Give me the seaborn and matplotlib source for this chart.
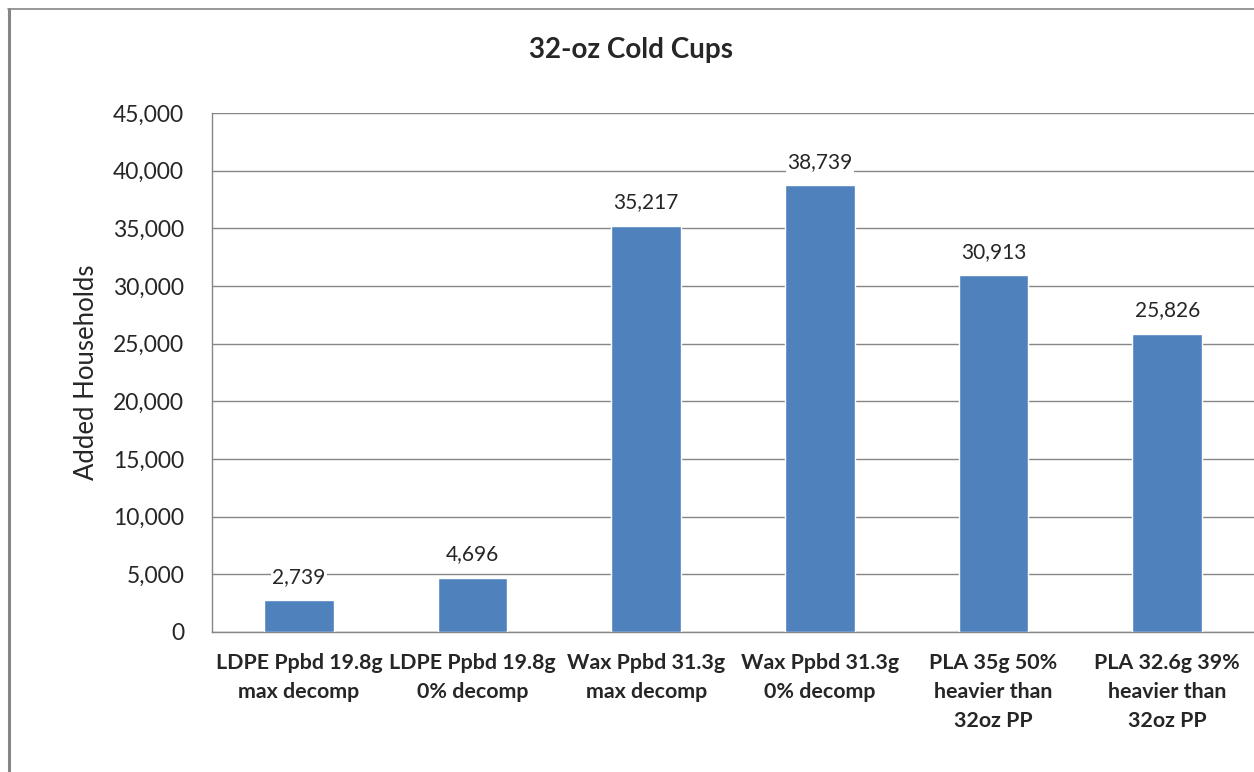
import pandas as pd
import matplotlib.pyplot as plt
import seaborn as sns
from matplotlib.lines import Line2D
from matplotlib.ticker import FixedLocator, FuncFormatter

# Chart data
categories = [
    'LDPE Ppbd 19.8g\nmax decomp',
    'LDPE Ppbd 19.8g\n0% decomp',
    'Wax Ppbd 31.3g\nmax decomp',
    'Wax Ppbd 31.3g\n0% decomp',
    'PLA 35g 50%\nheavier than\n32oz PP',
    'PLA 32.6g 39%\nheavier than\n32oz PP',
]
households = [2739, 4696, 35217, 38739, 30913, 25826]
y_ticks = [0, 5000, 10000, 15000, 20000, 25000, 30000, 35000, 40000, 45000]

BAR_COLOR = '#4F81BD'
LINE_GRAY = '#868686'

sns.set_style('white')
plt.rcParams['font.family'] = ['Lato', 'DejaVu Sans']

W, H = 1254, 772
fig = plt.figure(figsize=(W / 100, H / 100), dpi=100)
ax = fig.add_axes([212 / W, 1 - 632 / H, (W - 212) / W, (632 - 113) / H])

df = pd.DataFrame({'category': categories, 'households': households})
sns.barplot(data=df, x='category', y='households', color=BAR_COLOR,
            width=0.4, saturation=1, ax=ax, zorder=3)

ax.set_xlim(-0.5, len(categories) - 0.5)
ax.set_ylim(y_ticks[0], y_ticks[-1])
ax.set_yticks(y_ticks)
ax.yaxis.set_major_formatter(FuncFormatter(lambda v, _: f'{int(v):,}'))

# horizontal gridlines behind the bars
ax.set_axisbelow(True)
ax.yaxis.grid(True, color=LINE_GRAY, linewidth=1)
ax.xaxis.grid(False)

# spines
for side in ['top', 'right']:
    ax.spines[side].set_visible(False)
for side in ['left', 'bottom']:
    ax.spines[side].set_color(LINE_GRAY)
    ax.spines[side].set_linewidth(1)

# category separators as minor ticks, labels centred without ticks
ax.xaxis.set_minor_locator(FixedLocator([i - 0.5 for i in range(len(categories) + 1)]))
ax.tick_params(axis='x', which='major', length=0, pad=15, labelsize=15.4)
ax.tick_params(axis='x', which='minor', length=8, width=1, color=LINE_GRAY, direction='out')
ax.tick_params(axis='y', length=8, width=1, color=LINE_GRAY, direction='out',
               pad=12, labelsize=16.5)
for lbl in ax.get_xticklabels():
    lbl.set_fontweight('bold')
    lbl.set_linespacing(1.58)

ax.set_xlabel('')
ax.set_ylabel('Added Households', fontsize=18.5)
ax.yaxis.set_label_coords(-0.108, 0.5)

# value labels
for bar, v in zip(ax.patches, households):
    ax.annotate(f'{v:,}', (bar.get_x() + bar.get_width() / 2, v),
                xytext=(0, 17), textcoords='offset points',
                ha='center', va='center', fontsize=15, zorder=4,
                bbox=dict(facecolor='white', edgecolor='none', pad=1))

fig.text(631 / W, 1 - 50 / H, '32-oz Cold Cups', ha='center', va='center',
         fontsize=20, fontweight='bold')

# chart frame (left and top edges visible)
fig.add_artist(Line2D([9 / W, 9 / W], [0, 1 - 9 / H], transform=fig.transFigure,
                      color=LINE_GRAY, linewidth=2.2))
fig.add_artist(Line2D([8 / W, 1], [1 - 9 / H, 1 - 9 / H], transform=fig.transFigure,
                      color=LINE_GRAY, linewidth=1.2))

fig.savefig('out.png', dpi=100, facecolor='white')
